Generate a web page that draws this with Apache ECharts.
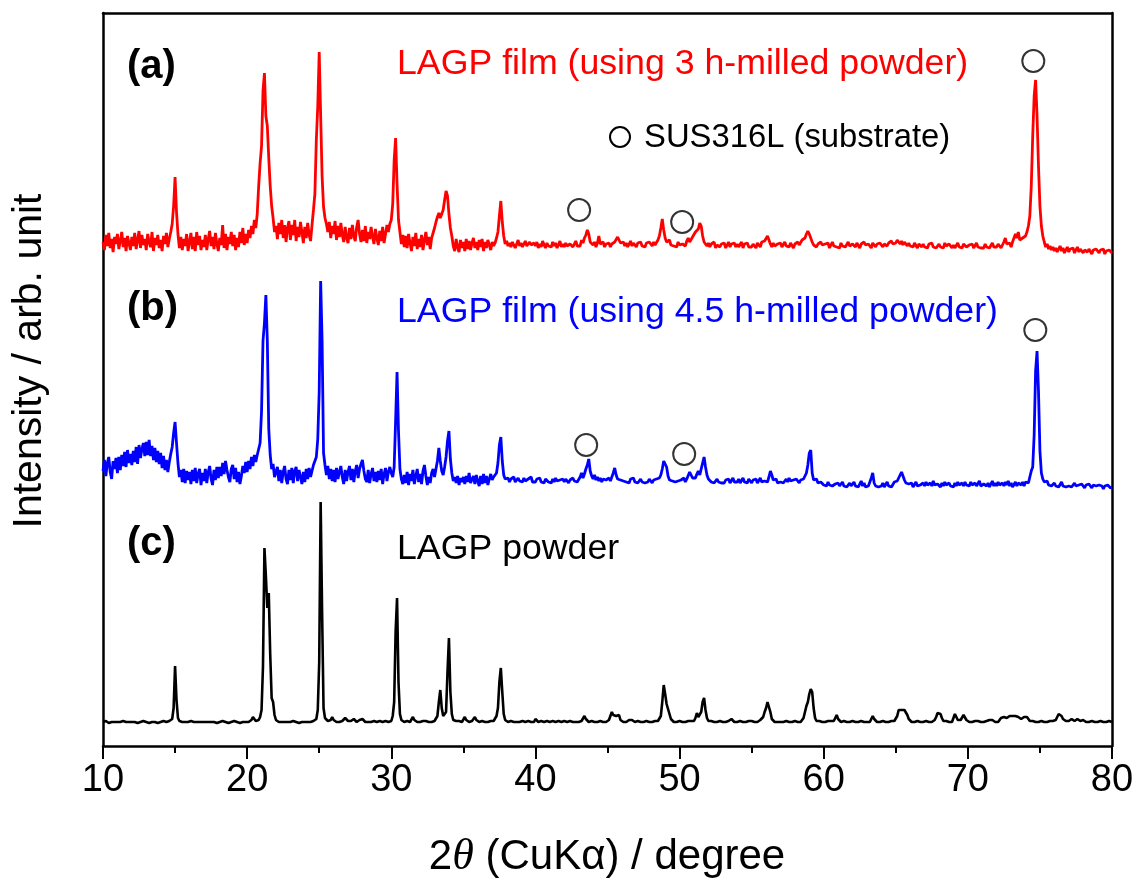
<!DOCTYPE html>
<html><head><meta charset="utf-8">
<script src="https://cdn.jsdelivr.net/npm/echarts@6/dist/echarts.min.js"></script>
<style>html,body{margin:0;padding:0;background:#fff}#c{width:1139px;height:885px}</style>
</head><body><div id="c"></div>
<script>
// 2-theta sampling grid (degrees)
const angleStart = 10, angleStep = 0.1;
const xTickValues = [10, 20, 30, 40, 50, 60, 70, 80];

// (a) LAGP film, 3 h-milled powder (arb. counts, one row per degree)
const intensityA = [
14,6,21,10,23,8,17,4,19,12,
22,7,15,24,9,18,5,20,13,6,
19,10,23,7,16,25,8,21,11,17,
6,22,14,9,24,5,18,11,21,8,
16,5,20,12,23,9,17,24,32,50,
79,44,22,8,19,6,17,10,22,5,
14,23,7,19,5,24,11,20,6,16,
9,21,6,17,25,10,19,7,23,12,
5,18,11,31,8,22,6,19,12,24,
10,21,6,18,9,24,13,28,11,22,
13,26,18,30,22,36,28,42,70,93,
110,165,183,140,130,98,70,50,38,24,
30,17,33,22,36,18,31,14,28,35,
16,31,21,36,15,29,19,34,24,13,
29,18,33,21,15,31,46,62,116,150,
204,140,80,49,38,32,24,34,18,30,
22,35,16,30,19,33,21,14,29,18,
13,28,17,31,20,15,29,36,22,14,
26,15,30,13,24,17,29,19,12,27,
18,11,25,15,29,13,22,31,24,32,
36,52,96,118,72,36,24,12,21,9,
20,8,22,13,5,19,10,23,7,17,
9,21,6,16,24,11,19,7,18,23,
28,34,39,43,38,40,46,56,65,60,
42,28,20,10,5,17,9,4,16,8,
14,5,17,7,15,6,13,18,8,14,
6,16,9,17,5,14,8,16,11,6,
14,10,13,18,24,40,55,34,20,12,
15,10,13,9,14,11,8,12,16,10,
13,9,12,15,10,8,14,11,9,13,
10,14,8,12,9,15,11,8,13,10,
12,9,14,10,13,8,11,15,9,12,
9,13,10,8,12,14,9,11,15,10,
12,10,16,13,18,21,26,22,14,15,
11,14,9,13,20,12,10,14,9,12,
10,13,9,12,11,14,16,19,21,13,
11,14,10,13,9,12,15,10,13,11,
9,13,11,14,10,12,9,13,11,14,
12,10,14,11,13,16,20,28,37,26,
18,14,12,16,11,13,10,12,9,14,
11,9,12,14,10,15,18,14,16,19,
20,24,22,27,33,30,20,14,12,10,
13,9,12,10,14,8,11,13,9,12,
10,13,8,11,14,9,12,10,13,9,
12,9,11,14,8,12,10,13,9,11,
9,12,10,8,13,11,9,14,12,15,
17,20,16,12,9,13,10,8,12,10,
13,9,11,14,10,12,9,13,11,8,
12,10,14,11,13,16,15,18,22,25,
22,18,14,11,13,9,12,10,14,11,
9,12,10,13,8,11,14,10,12,9,
11,8,13,10,12,9,11,14,10,8,
12,10,9,13,11,8,12,10,14,11,
9,12,10,8,13,11,9,12,10,13,
11,9,12,14,10,13,11,15,12,14,
13,16,14,12,15,11,14,12,10,13,
10,12,9,13,11,8,12,10,9,12,
9,11,8,12,10,13,9,11,8,10,
12,9,11,8,13,10,9,12,10,8,
11,8,10,13,9,11,8,12,10,9,
8,11,9,12,8,10,13,9,11,8,
10,8,12,9,11,8,10,13,9,11,
9,12,10,8,11,14,18,12,10,13,
9,14,12,22,18,24,16,14,18,17,
20,24,30,40,70,120,160,176,140,90,
50,30,20,14,9,12,7,10,6,9,
5,8,4,7,10,5,8,3,6,9,
4,7,5,8,3,6,9,4,7,5,
3,6,8,4,7,5,2,6,4,7,
5,3,6,4,7,2,5,3,6,4,
3];

// (b) LAGP film, 4.5 h-milled powder
const intensityB = [
20,31,15,28,34,19,12,30,22,33,
18,34,21,36,25,39,24,41,28,37,
26,40,29,44,27,46,33,42,48,35,
49,36,51,35,45,31,43,29,40,27,
38,23,35,21,31,19,29,37,44,58,
69,48,28,14,21,9,22,8,20,11,
19,7,21,10,23,8,17,22,6,18,
10,22,8,19,25,12,6,21,11,24,
13,24,15,28,17,30,21,14,9,22,
26,12,23,9,19,7,15,25,18,29,
19,30,22,34,25,36,29,36,38,48,
80,150,168,196,150,62,36,22,27,14,
19,24,10,21,8,19,25,12,7,21,
11,23,8,20,24,10,21,14,7,19,
9,22,12,23,14,20,26,30,34,52,
100,210,150,38,26,16,25,12,22,10,
21,9,23,12,19,25,14,7,21,10,
19,25,11,22,9,20,26,13,22,27,
31,20,12,9,21,8,17,23,10,19,
9,20,11,22,7,17,23,10,19,24,
18,14,24,70,119,60,22,12,7,16,
8,19,6,17,10,21,7,15,22,9,
17,7,20,26,15,6,14,8,18,22,
14,22,30,43,30,20,16,24,34,50,
60,32,18,10,14,8,15,6,13,9,
14,7,15,9,18,8,6,15,7,16,
10,5,15,7,17,8,15,6,12,17,
11,14,12,18,28,46,54,30,16,12,
10,13,9,12,10,14,9,11,13,10,
12,9,13,10,8,12,10,14,9,11,
9,12,10,13,9,11,8,12,10,9,
11,8,12,9,13,10,8,11,9,12,
9,12,10,8,11,9,13,10,12,9,
11,14,18,13,17,22,26,32,20,15,
12,16,11,14,10,13,9,12,10,11,
9,13,10,14,18,23,16,12,14,11,
13,10,12,9,11,8,12,10,13,9,
11,8,10,12,9,11,8,10,9,12,
10,8,11,9,12,10,13,16,22,30,
32,24,15,11,13,10,12,9,11,10,
8,11,10,13,9,12,14,19,16,13,
15,13,17,20,16,22,28,34,24,16,
12,10,9,11,8,10,12,9,11,8,
10,8,11,9,12,8,10,13,9,11,
9,12,8,10,13,9,11,8,12,10,
8,11,9,12,8,10,13,9,11,10,
12,9,14,20,16,11,9,12,8,10,
9,11,8,10,12,9,13,10,8,11,
9,12,10,8,11,9,12,14,18,26,
38,41,18,11,9,12,8,10,9,11,
6,8,5,9,6,8,5,4,7,5,
8,5,6,9,5,7,4,6,8,5,
6,9,5,7,4,6,10,5,8,4,
6,5,9,13,18,8,5,7,4,6,
5,8,4,6,9,5,7,4,6,9,
7,10,13,16,19,15,11,8,6,7,
5,8,4,6,9,5,7,6,4,8,
5,9,6,4,8,5,10,6,4,7,
6,4,8,5,9,6,4,8,5,6,
4,8,5,9,6,4,8,5,9,6,
8,5,9,6,4,8,5,7,10,5,
4,7,9,5,8,4,6,10,5,8,
5,9,6,4,8,5,9,6,10,5,
8,4,6,9,5,8,10,6,9,5,
9,11,8,14,20,24,56,120,140,100,
40,18,12,9,7,10,6,8,5,7,
8,5,7,4,6,9,5,7,4,6,
5,7,4,6,8,5,3,6,4,7,
5,3,6,4,7,5,3,6,4,5,
3,6,4,5,2,5,3,6,4,3,
4];

// (c) LAGP powder
const intensityC = [
4,4,5,4,3,4,4,5,4,4,
4,3,4,4,5,4,4,3,4,4,
4,5,4,4,3,4,4,4,5,4,
4,4,3,4,4,5,4,4,3,4,
4,4,5,4,4,4,5,5,7,18,
60,26,8,5,4,4,3,4,4,4,
4,5,4,4,3,4,4,4,5,4,
4,4,3,4,4,4,5,4,4,3,
4,4,4,5,4,4,4,3,4,4,
4,5,4,4,4,3,4,4,5,4,
4,4,4,6,9,7,5,5,6,9,
16,60,178,150,118,133,72,28,24,11,
6,5,4,4,4,5,4,4,4,4,
4,4,5,4,4,4,3,4,4,4,
4,5,4,4,4,4,5,5,7,16,
64,224,114,18,8,6,5,5,6,9,
6,5,4,5,4,5,5,6,8,6,
5,4,5,6,7,5,4,5,6,8,
7,5,4,4,4,5,4,4,5,4,
4,4,5,4,4,4,5,4,4,5,
5,10,24,94,128,44,12,6,5,4,
4,5,4,4,5,9,6,4,4,5,
4,4,5,4,5,4,4,5,4,5,
5,6,10,24,36,18,10,8,14,54,
88,34,12,6,5,5,4,5,4,4,
5,9,6,5,4,4,5,4,9,6,
5,4,4,5,4,4,5,4,4,5,
4,5,4,10,18,44,58,34,12,6,
5,4,4,5,4,4,5,4,4,4,
4,5,4,4,4,5,4,4,5,4,
7,5,4,4,5,4,4,4,5,4,
4,4,5,4,4,4,5,4,4,4,
5,4,4,4,5,4,4,5,4,4,
4,4,5,6,10,7,5,4,4,5,
4,4,5,4,4,5,4,4,5,4,
5,6,10,14,11,9,10,12,11,6,
5,4,5,4,5,6,8,6,5,4,
4,5,4,4,5,4,4,5,4,4,
5,4,4,5,4,5,6,10,24,41,
32,22,24,12,7,5,4,5,4,4,
5,4,4,5,4,4,5,4,5,4,
5,8,13,9,7,14,24,28,16,8,
5,4,5,4,4,5,4,4,5,4,
4,5,4,4,5,6,7,5,4,5,
4,4,5,4,4,5,4,4,5,4,
5,4,4,5,4,5,6,8,9,14,
18,24,25,14,7,5,4,5,4,4,
4,5,4,4,5,4,4,5,4,4,
5,4,4,5,4,5,8,14,20,24,
32,37,34,18,8,5,4,5,4,4,
5,4,4,5,4,5,4,5,8,11,
7,5,4,4,5,4,4,5,4,4,
5,4,4,5,4,4,5,4,4,5,
4,5,4,7,10,7,5,4,5,4,
4,5,4,4,5,4,4,5,4,5,
6,10,16,18,16,15,16,14,11,7,
5,4,5,4,4,5,4,4,5,4,
4,5,4,4,5,4,5,6,9,13,
15,12,8,5,4,5,4,4,5,4,
5,12,9,6,5,6,8,11,10,6,
5,4,5,4,4,5,4,5,4,4,
5,4,4,5,4,6,8,6,5,4,
5,4,6,8,10,9,7,8,9,10,
11,10,11,10,11,9,8,7,8,9,
8,9,7,5,4,5,4,4,5,4,
4,5,4,4,5,4,4,5,4,5,
5,6,8,12,13,10,7,5,5,6,
5,6,7,6,5,6,7,6,5,5,
6,5,4,5,4,4,5,4,4,5,
4,4,5,4,4,5,4,4,5,4,
4];

// vertical offsets of the stacked patterns (arb. units)
const offsetA = 490, offsetB = 255, offsetC = 20;

// SUS316L substrate peaks marked with circles: [2theta, intensity above own pattern]
const substrateMarksA = [[43.03, 46], [50.18, 34], [74.54, 195]];
const substrateMarksB = [[43.52, 46], [50.32, 37], [74.68, 161]];

const FF = "'Liberation Sans', Arial, Helvetica, sans-serif";

function toPairs(arr, off) {
  return arr.map((v, i) => [+(angleStart + i * angleStep).toFixed(1), v + off]);
}
function marks(arr, off) { return arr.map(p => [p[0], p[1] + off]); }

const chart = echarts.init(document.getElementById('c'), null, {renderer: 'canvas'});
const axisLineStyle = {color: '#000', width: 2.5};
chart.setOption({
  animation: false,
  backgroundColor: '#fff',
  grid: {left: 103, right: 27, top: 13, bottom: 139, containLabel: false},
  xAxis: [{
    type: 'value', min: 10, max: 80, interval: 10, position: 'bottom',
    axisLine: {show: true, onZero: false, lineStyle: axisLineStyle},
    axisTick: {show: true, inside: false, length: 13, lineStyle: {color: '#000', width: 2}},
    minorTick: {show: true, splitNumber: 2, length: 7, lineStyle: {color: '#000', width: 2}},
    axisLabel: {color: '#000', fontSize: 38, fontFamily: FF, margin: 16,
      formatter: v => xTickValues.includes(v) ? String(v) : ''},
    splitLine: {show: false}, minorSplitLine: {show: false}
  }, {
    type: 'value', min: 10, max: 80, position: 'top',
    axisLine: {show: true, onZero: false, lineStyle: axisLineStyle},
    axisTick: {show: false}, axisLabel: {show: false}, splitLine: {show: false}
  }],
  yAxis: [{
    type: 'value', min: 0, max: 733, position: 'left',
    axisLine: {show: true, onZero: false, lineStyle: axisLineStyle},
    axisTick: {show: false}, axisLabel: {show: false}, splitLine: {show: false}
  }, {
    type: 'value', min: 0, max: 733, position: 'right',
    axisLine: {show: true, onZero: false, lineStyle: axisLineStyle},
    axisTick: {show: false}, axisLabel: {show: false}, splitLine: {show: false}
  }],
  series: [
    {type: 'line', name: '(c)', data: toPairs(intensityC, offsetC), showSymbol: false, symbol: 'none',
      silent: true, lineStyle: {color: '#000', width: 2.6}, z: 2},
    {type: 'line', name: '(b)', data: toPairs(intensityB, offsetB), showSymbol: false, symbol: 'none',
      silent: true, lineStyle: {color: '#0000ff', width: 2.8}, z: 3},
    {type: 'line', name: '(a)', data: toPairs(intensityA, offsetA), showSymbol: false, symbol: 'none',
      silent: true, lineStyle: {color: '#ff0000', width: 2.8}, z: 4},
    {type: 'scatter', data: marks(substrateMarksA, offsetA).concat(marks(substrateMarksB, offsetB)),
      symbol: 'circle', symbolSize: 22, silent: true, z: 5,
      itemStyle: {color: '#fff', borderColor: '#000', borderWidth: 2}}
  ],
  graphic: [
    {type: 'text', x: 127, y: 67, style: {text: '(a)', font: "bold 40px " + FF, fill: '#000', verticalAlign: 'middle'}},
    {type: 'text', x: 127, y: 309, style: {text: '(b)', font: "bold 40px " + FF, fill: '#000', verticalAlign: 'middle'}},
    {type: 'text', x: 127, y: 544, style: {text: '(c)', font: "bold 40px " + FF, fill: '#000', verticalAlign: 'middle'}},
    {type: 'text', x: 397, y: 64, style: {text: 'LAGP film (using 3 h-milled powder)', font: "35.7px " + FF, fill: '#ff0000', verticalAlign: 'middle'}},
    {type: 'text', x: 397, y: 312, style: {text: 'LAGP film (using 4.5 h-milled powder)', font: "35.7px " + FF, fill: '#0000ff', verticalAlign: 'middle'}},
    {type: 'text', x: 397, y: 549, style: {text: 'LAGP powder', font: "35.7px " + FF, fill: '#000', verticalAlign: 'middle'}},
    {type: 'circle', shape: {cx: 620, cy: 137, r: 10}, style: {fill: '#fff', stroke: '#000', lineWidth: 2}},
    {type: 'text', x: 644, y: 138, style: {text: 'SUS316L (substrate)', font: "32.8px " + FF, fill: '#000', verticalAlign: 'middle'}},
    {type: 'text', x: 30, y: 361, rotation: Math.PI / 2,
      style: {text: 'Intensity / arb. unit', font: "41px " + FF, fill: '#000', align: 'center', verticalAlign: 'middle'}},
    {type: 'text', x: 607, y: 857,
      style: {text: '{n|2}{t|θ} {n|(CuKα) / degree}', fill: '#000', align: 'center', verticalAlign: 'middle',
        font: "42px " + FF,
        rich: {n: {fontSize: 42, fontFamily: FF, fill: '#000'},
               t: {fontSize: 44, fontFamily: "'Liberation Serif', 'DejaVu Serif', serif", fontStyle: 'italic', fill: '#000'}}}}
  ]
});
</script></body></html>
